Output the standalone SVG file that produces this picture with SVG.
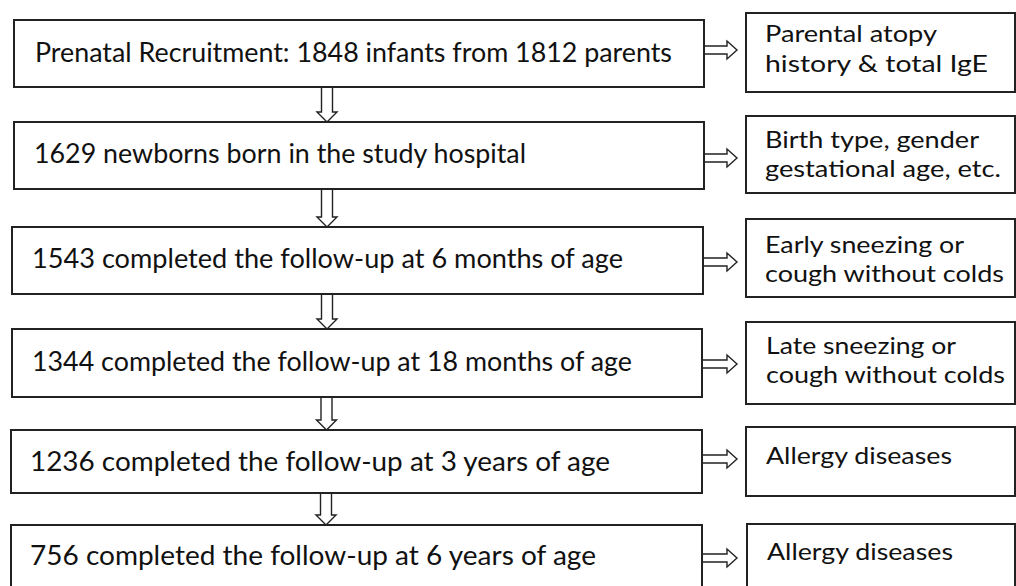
<svg xmlns="http://www.w3.org/2000/svg" width="1016" height="586" viewBox="0 0 1016 586">
<style>
.box{fill:#fff;stroke:#222;stroke-width:2}
.arr{fill:#fff;stroke:#222;stroke-width:1.4;stroke-linejoin:miter}
.t{font-family:Lato,"Open Sans","Liberation Sans",sans-serif;font-size:26px;fill:#111}
.s{font-family:Lato,"Open Sans","Liberation Sans",sans-serif;font-size:24px;fill:#111}
</style>
<rect width="1016" height="586" fill="#fff"/>
<g id="n1"><rect class="box" x="14" y="20" width="690" height="67"/><text class="t" x="35" y="62" textLength="637" lengthAdjust="spacingAndGlyphs">Prenatal Recruitment: 1848 infants from 1812 parents</text></g>
<g id="n2"><rect class="box" x="14" y="122" width="690" height="67"/><text class="t" x="34" y="163" textLength="492" lengthAdjust="spacingAndGlyphs">1629 newborns born in the study hospital</text></g>
<g id="n3"><rect class="box" x="12" y="227" width="691" height="67"/><text class="t" x="32" y="268" textLength="591" lengthAdjust="spacingAndGlyphs">1543 completed the follow-up at 6 months of age</text></g>
<g id="n4"><rect class="box" x="12" y="329" width="690" height="68"/><text class="t" x="32" y="371" textLength="600" lengthAdjust="spacingAndGlyphs">1344 completed the follow-up at 18 months of age</text></g>
<g id="n5"><rect class="box" x="11" y="430" width="691" height="63"/><text class="t" x="30" y="471" textLength="580" lengthAdjust="spacingAndGlyphs">1236 completed the follow-up at 3 years of age</text></g>
<g id="n6"><rect class="box" x="11" y="525" width="691" height="80"/><text class="t" x="30" y="565" textLength="566" lengthAdjust="spacingAndGlyphs">756 completed the follow-up at 6 years of age</text></g>
<g id="r1"><rect class="box" x="746" y="13" width="269" height="79"/><text class="s" x="765" y="42" textLength="172" lengthAdjust="spacingAndGlyphs">Parental atopy</text><text class="s" x="765" y="72" textLength="223" lengthAdjust="spacingAndGlyphs">history &amp; total IgE</text></g>
<g id="r2"><rect class="box" x="746" y="116" width="269" height="77"/><text class="s" x="765" y="148" textLength="214" lengthAdjust="spacingAndGlyphs">Birth type, gender</text><text class="s" x="765" y="177" textLength="236" lengthAdjust="spacingAndGlyphs">gestational age, etc.</text></g>
<g id="r3"><rect class="box" x="746" y="219" width="269" height="78"/><text class="s" x="765" y="253" textLength="199" lengthAdjust="spacingAndGlyphs">Early sneezing or</text><text class="s" x="765" y="282" textLength="239" lengthAdjust="spacingAndGlyphs">cough without colds</text></g>
<g id="r4"><rect class="box" x="746" y="322" width="269" height="82"/><text class="s" x="766" y="354" textLength="190" lengthAdjust="spacingAndGlyphs">Late sneezing or</text><text class="s" x="766" y="383" textLength="239" lengthAdjust="spacingAndGlyphs">cough without colds</text></g>
<g id="r5"><rect class="box" x="746" y="427" width="269" height="69"/><text class="s" x="766" y="464" textLength="186" lengthAdjust="spacingAndGlyphs">Allergy diseases</text></g>
<g id="r6"><rect class="box" x="747" y="524" width="268" height="80"/><text class="s" x="767" y="560" textLength="186" lengthAdjust="spacingAndGlyphs">Allergy diseases</text></g>
<g id="connectors">
<path class="arr" d="M705,46 H727 V41 L737,50 L727,59 V54 H705"/>
<path class="arr" d="M705,154 H727 V149 L737,158 L727,167 V162 H705"/>
<path class="arr" d="M704,258 H727 V253 L737,262 L727,271 V266 H704"/>
<path class="arr" d="M703,360 H727 V355 L737,364 L727,373 V368 H703"/>
<path class="arr" d="M703,455 H727 V450 L737,459 L727,468 V463 H703"/>
<path class="arr" d="M703,554 H727 V549 L737,558 L727,567 V562 H703"/>
<path class="arr" d="M321.5,88 V112 H317 L327,122 L337,112 H332.5 V88"/>
<path class="arr" d="M321.5,190 V217 H317 L327,227 L337,217 H332.5 V190"/>
<path class="arr" d="M321.5,295 V319 H317 L327,329 L337,319 H332.5 V295"/>
<path class="arr" d="M321,398 V420 H316.5 L326.5,430 L336.5,420 H332 V398"/>
<path class="arr" d="M320.5,494 V515 H316 L326,525 L336,515 H331.5 V494"/>
</g>
</svg>
